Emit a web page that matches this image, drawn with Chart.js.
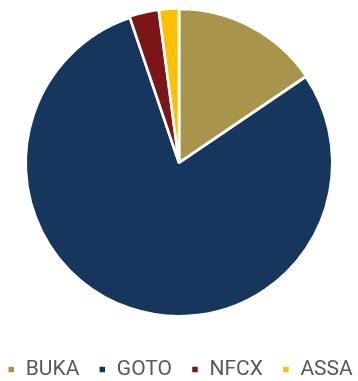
<!DOCTYPE html>
<html>
<head>
<meta charset="utf-8">
<script src="https://cdn.jsdelivr.net/npm/chart.js@4/dist/chart.umd.min.js"></script>
<style>
  html, body { margin: 0; padding: 0; background: #fff; }
  #wrap { width: 358px; height: 381px; position: relative; }
</style>
</head>
<body>
<div id="wrap"><canvas id="pieChart"></canvas></div>
<script>
// share of each ticker (%)
const tickers = ['BUKA', 'GOTO', 'NFCX', 'ASSA'];
const shares = [15.5, 79.3, 3.1, 2.1];
const sliceColors = ['#A8944A', '#17365D', '#7B1518', '#FFC000'];

// one legend row: fit it without wrapping, keep its box short so the pie
// gets the room, then draw the row a bit lower
const legendShift = {
    id: 'legendShift',
    beforeInit(chart) {
        const legend = chart.legend;
        if (!legend) return;
        const origFit = legend.fit;
        legend.fit = function () {
            const mw = this.maxWidth;
            this.maxWidth = 2000;
            origFit.call(this);
            this.maxWidth = mw;
            this.width = mw;
            this.height = 62;
        };
        const origDraw = legend.draw;
        legend.draw = function () {
            const c = this.ctx;
            const l = this.left, r = this.right;
            // widen the box on both sides (same centre) so the row never wraps
            this.left = l - 300;
            this.right = r + 300;
            c.save();
            c.translate(1, 21);
            origDraw.call(this);
            c.restore();
            this.left = l;
            this.right = r;
        };
    }
};

document.addEventListener('DOMContentLoaded', () => {
    const ctx = document.getElementById('pieChart');

    new Chart(ctx, {
        type: 'pie',
        data: {
            labels: tickers,
            datasets: [{
                data: shares,
                backgroundColor: sliceColors,
                borderColor: '#ffffff',
                borderWidth: 2.5,
                offset: [3, 0, 3, 3]
            }]
        },
        options: {
            responsive: true,
            maintainAspectRatio: false,
            animation: false,
            layout: {
                padding: { top: 7, bottom: 0, left: 0, right: 0 }
            },
            plugins: {
                legend: {
                    position: 'bottom',
                    labels: {
                        boxWidth: 8,
                        boxHeight: 8,
                        padding: 19,
                        color: '#595959',
                        font: { family: 'Roboto, sans-serif', size: 21 }
                    }
                },
                tooltip: { enabled: false }
            }
        },
        plugins: [legendShift]
    });
});
</script>
</body>
</html>
